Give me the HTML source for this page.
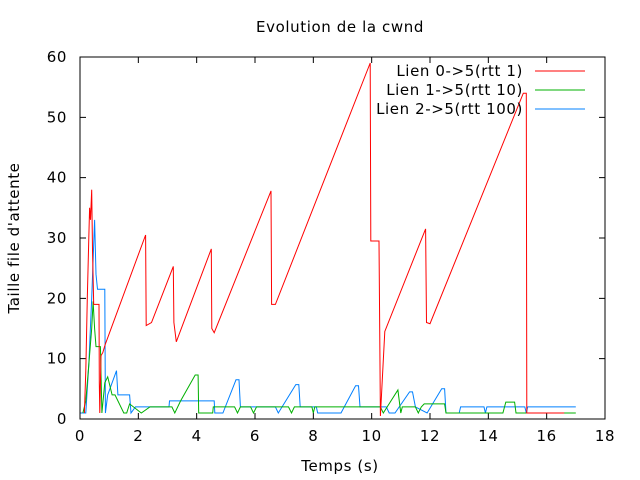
<!DOCTYPE html>
<html><head><meta charset="utf-8"><style>
body{margin:0;background:#fff}
svg{display:block;font-family:"DejaVu Sans","Liberation Sans",sans-serif;font-size:15px;letter-spacing:0.6px}
</style></head><body>
<svg id="chart" width="640" height="480">
<rect width="640" height="480" fill="#fff"/>
<text x="340" y="32" text-anchor="middle">Evolution de la cwnd</text>
<text x="340" y="471" text-anchor="middle">Temps (s)</text>
<text transform="translate(19,238) rotate(-90)" text-anchor="middle">Taille file d'attente</text>
<g id="axes"></g>
<g id="series"></g>
<rect x="80" y="57" width="525" height="362" fill="none" stroke="#000" stroke-width="1"/>
<g id="legend"></g>
</svg>
<script>
const xTicks=[0,2,4,6,8,10,12,14,16,18];
const yTicks=[0,10,20,30,40,50,60];
const seriesNames=["Lien 0->5(rtt 1)","Lien 1->5(rtt 10)","Lien 2->5(rtt 100)"];
const seriesColors=["#ff0000","#00b000","#0080ff"];
const redT=[0.15,0.2,0.25,0.3,0.33,0.36,0.4,0.43,0.47,0.51,0.65,0.66,0.68,0.72,0.78,0.86,2.25,2.27,2.45,3.2,3.22,3.3,4.5,4.52,4.6,6.55,6.57,6.7,9.95,9.97,10.25,10.3,10.45,11.85,11.88,12.0,15.2,15.3,15.32,16.6];
const redV=[1,8,20,30,35,33,38,28,19,19,19,6,1,10.5,11,12.3,30.5,15.5,16,25.3,16,12.8,28.2,15,14.3,37.8,19,19,59,29.5,29.5,0.5,14.5,31.5,16,15.8,54,54,1,1];
const greenT=[0.1,0.2,0.3,0.4,0.45,0.5,0.55,0.7,0.75,0.85,0.95,1.1,1.2,1.5,1.6,1.7,2.1,2.4,3.15,3.25,3.45,3.95,4.05,4.07,4.55,4.57,5.3,5.4,5.5,5.85,5.95,6.05,7.15,7.25,7.35,7.95,8.0,8.05,10.3,10.4,10.9,11.0,11.05,11.5,11.6,11.7,11.8,12.5,12.55,14.5,14.6,14.9,14.95,16.5,17.0];
const greenV=[1,3,9,15,19.5,15,12,12,1,6,7,4,4,1,1,2.5,1,2,2,1,3,7.3,7.3,1,1,2,2,1,2,2,1,2,2,1,2,2,1,2,2,1,4.8,1,2,2,1,2,2.5,2.5,1,1,2.8,2.8,1,1,1];
const blueT=[0,0.2,0.3,0.4,0.5,0.55,0.6,0.85,0.87,0.95,1.1,1.25,1.3,1.7,1.75,1.9,3.05,3.07,4.6,4.62,4.9,5.35,5.45,5.5,6.7,6.8,7.4,7.5,7.55,8.1,8.15,8.85,8.95,9.45,9.55,9.6,10.5,10.6,10.8,11.3,11.4,11.5,11.9,12.4,12.5,12.55,13.0,13.05,13.85,13.9,13.95,15.25,15.3,15.35,17.0];
const blueV=[1,1,9,20,33,24,21.5,21.5,1,4,6,8,4,4,1,2,2,3,3,1,1,6.5,6.5,2,2,1,5.7,5.7,2,2,1,1,1,5.5,5.5,2,2,1,1,4.5,4.5,2,1,5,5,1,1,2,2,1,2,2,1,2,2];
const seriesT=[redT,greenT,blueT];
const seriesV=[redV,greenV,blueV];
const X=t=>80+t*525/18;
const Y=v=>419-v*362/60;
const NS="http://www.w3.org/2000/svg";
const axes=document.getElementById('axes');
function mk(tag,attrs,parent){const e=document.createElementNS(NS,tag);for(const k in attrs)e.setAttribute(k,attrs[k]);parent.appendChild(e);return e;}
xTicks.forEach(t=>{
  const x=X(t);
  const l=mk('path',{d:`M${x},419v-6M${x},57v6`,stroke:'#000'},axes);
  
  
  const tx=mk('text',{x:x,y:441,'text-anchor':'middle'},axes);tx.textContent=t;
  
  
});
yTicks.forEach(v=>{
  const y=Y(v);
  const l=mk('path',{d:`M80,${y}h6M605,${y}h-6`,stroke:'#000'},axes);
  
  
  const tx=mk('text',{x:67,y:y+5,'text-anchor':'end'},axes);tx.textContent=v;
  
  
});
const sg=document.getElementById('series');
[2,1,0].forEach(i=>{
  const pts=seriesT[i].map((t,j)=>X(t).toFixed(1)+','+Y(seriesV[i][j]).toFixed(1)).join(' ');
  const p=mk('polyline',{points:pts,fill:'none',stroke:seriesColors[i],'stroke-width':1},sg);
  
  
});
const lg=document.getElementById('legend');
seriesNames.forEach((n,i)=>{
  const y=71+i*19;
  const tx=mk('text',{x:523,y:y+5,'text-anchor':'end'},lg);tx.textContent=n;
  
  
  const l=mk('line',{x1:535,x2:585,y1:y,y2:y,stroke:seriesColors[i]},lg);
  
  
});
</script>
</body></html>
